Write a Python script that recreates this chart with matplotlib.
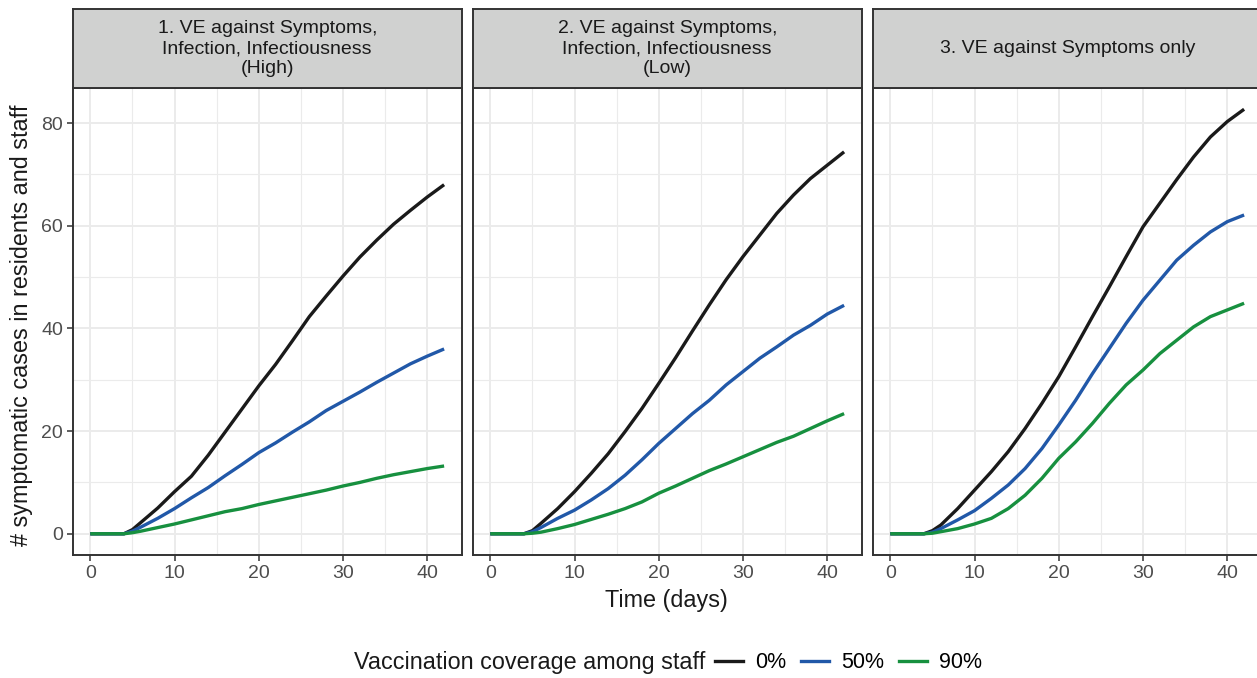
import numpy as np
import matplotlib
matplotlib.use("Agg")
import matplotlib.pyplot as plt
from matplotlib.lines import Line2D

plt.rcParams['font.family'] = ['Liberation Sans', 'DejaVu Sans']

# Data
days = [0, 2, 4, 5, 6] + list(range(8, 43, 2))

panel_titles = [
    "1. VE against Symptoms,\nInfection, Infectiousness\n(High)",
    "2. VE against Symptoms,\nInfection, Infectiousness\n(Low)",
    "3. VE against Symptoms only",
]
coverage_labels = ["0%", "50%", "90%"]

p1_cov0 = [0, 0, 0, 0.8, 2.2, 5.0, 8.2, 11.2, 15.3, 19.8, 24.3, 28.8, 33.0, 37.6, 42.3, 46.3, 50.2, 53.9, 57.2, 60.3, 63.0, 65.6, 68.0]
p1_cov50 = [0, 0, 0, 0.5, 1.3, 3.0, 4.9, 7.0, 9.0, 11.3, 13.5, 15.8, 17.7, 19.8, 21.8, 24.0, 25.8, 27.6, 29.5, 31.3, 33.1, 34.6, 36.0]
p1_cov90 = [0, 0, 0, 0.2, 0.5, 1.2, 1.9, 2.7, 3.5, 4.3, 4.9, 5.7, 6.4, 7.1, 7.8, 8.5, 9.3, 10.0, 10.8, 11.5, 12.1, 12.7, 13.2]

p2_cov0 = [0, 0, 0, 0.6, 2.0, 4.9, 8.2, 11.8, 15.6, 19.9, 24.4, 29.3, 34.3, 39.5, 44.6, 49.5, 54.0, 58.2, 62.4, 66.0, 69.2, 71.8, 74.4]
p2_cov50 = [0, 0, 0, 0.4, 1.2, 3.0, 4.6, 6.6, 8.8, 11.4, 14.4, 17.6, 20.5, 23.4, 26.0, 29.0, 31.6, 34.2, 36.4, 38.7, 40.6, 42.8, 44.5]
p2_cov90 = [0, 0, 0, 0.1, 0.3, 1.0, 1.8, 2.8, 3.8, 4.9, 6.2, 7.9, 9.3, 10.8, 12.3, 13.6, 15.0, 16.4, 17.8, 19.0, 20.5, 22.0, 23.4]

p3_cov0 = [0, 0, 0, 0.6, 1.7, 4.9, 8.5, 12.1, 16.0, 20.5, 25.4, 30.6, 36.4, 42.3, 48.1, 54.0, 59.8, 64.4, 69.0, 73.4, 77.3, 80.3, 82.7]
p3_cov50 = [0, 0, 0, 0.3, 1.0, 2.7, 4.5, 6.9, 9.5, 12.7, 16.6, 21.2, 26.0, 31.2, 36.1, 41.0, 45.5, 49.4, 53.3, 56.2, 58.8, 60.8, 62.1]
p3_cov90 = [0, 0, 0, 0.1, 0.4, 1.0, 1.9, 3.0, 4.9, 7.5, 10.8, 14.7, 17.9, 21.5, 25.4, 29.0, 31.9, 35.1, 37.7, 40.3, 42.3, 43.6, 44.9]

panels = [
    [p1_cov0, p1_cov50, p1_cov90],
    [p2_cov0, p2_cov50, p2_cov90],
    [p3_cov0, p3_cov50, p3_cov90],
]
colors = ["#1a1a1a", "#2158a8", "#17903f"]

W, H = 1257, 678
fig = plt.figure(figsize=(W / 100, H / 100), dpi=100)

panel_left = [72.6, 472.6, 872.6]
panel_w = 389.2
panel_top, panel_bot = 88, 555
strip_top = 9

for i, series in enumerate(panels):
    x0 = panel_left[i] / W
    ax = fig.add_axes([x0, 1 - panel_bot / H, panel_w / W, (panel_bot - panel_top) / H])
    for vals, c in zip(series, colors):
        ax.plot(days, vals, color=c, lw=2.4, solid_capstyle='butt')
    ax.set_xlim(-2.1, 44.1)
    ax.set_ylim(-4.14, 86.84)
    ax.set_xticks([0, 10, 20, 30, 40])
    ax.set_xticks([5, 15, 25, 35], minor=True)
    ax.set_yticks([0, 20, 40, 60, 80])
    ax.set_yticks([10, 30, 50, 70], minor=True)
    ax.grid(which='major', color='#ebebeb', lw=1.4)
    ax.grid(which='minor', color='#ebebeb', lw=0.8)
    ax.set_axisbelow(True)
    for s in ax.spines.values():
        s.set_color('#333333')
        s.set_linewidth(1.4)
    ax.tick_params(which='major', length=4, width=1.1, color='#333333',
                   labelsize=14, labelcolor='#4d4d4d', pad=3)
    ax.tick_params(which='minor', length=0)
    if i > 0:
        ax.tick_params(axis='y', left=False, labelleft=False)

    # facet strip
    sax = fig.add_axes([x0, 1 - panel_top / H, panel_w / W, (panel_top - strip_top) / H])
    sax.set_facecolor('#d0d1d0')
    sax.set_xticks([])
    sax.set_yticks([])
    for s in sax.spines.values():
        s.set_color('#333333')
        s.set_linewidth(1.4)
    sax.text(0.5, 0.5, panel_titles[i], ha='center', va='center',
             fontsize=14, color='#1a1a1a', linespacing=1.2,
             transform=sax.transAxes)

fig.text(22 / W, 1 - 325 / H, "# symptomatic cases in residents and staff",
         rotation=90, ha='center', va='center', fontsize=16.8, color='#1a1a1a')
fig.text(666 / W, 1 - 600 / H, "Time (days)", ha='center', va='center',
         fontsize=16.8, color='#1a1a1a')

fig.text(705 / W, 1 - 663 / H, "Vaccination coverage among staff",
         ha='right', va='center', fontsize=16.8, color='#1a1a1a')
handles = [Line2D([0], [0], color=c, lw=2.4) for c in colors]
fig.legend(handles, coverage_labels, loc='center left',
           bbox_to_anchor=(715 / W, 1 - 663 / H), ncol=3, frameon=False,
           fontsize=15.5, handlelength=1.3, handletextpad=0.56,
           columnspacing=0.7, borderaxespad=0, borderpad=0)

fig.savefig("out.png", dpi=100)
